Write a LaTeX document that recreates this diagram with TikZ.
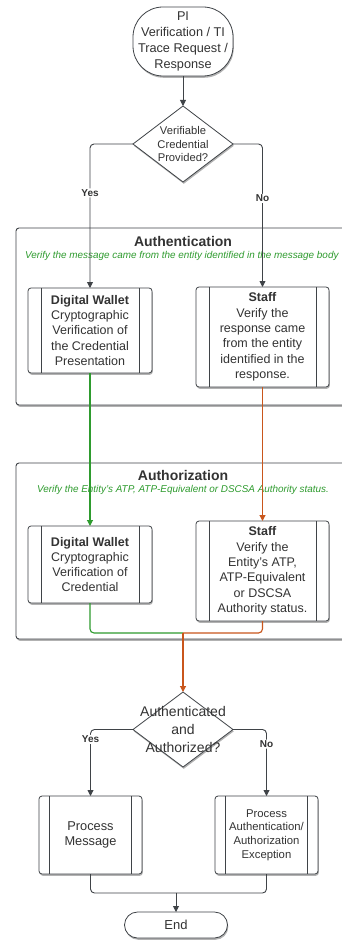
\documentclass[tikz,border=0pt]{standalone}
\usepackage{fontspec}
\setmainfont{Liberation Sans}
\usetikzlibrary{arrows.meta,shapes.geometric,shadows,calc}
\definecolor{ln}{HTML}{3F4347}
\definecolor{grn}{HTML}{2E9B2E}
\definecolor{org}{HTML}{C9561C}
\definecolor{txt}{HTML}{333333}
\begin{document}
\begin{tikzpicture}[x=1pt,y=-1pt,
  every node/.style={text=txt},
  conn/.style={draw=ln, line width=0.9pt, rounded corners=4pt},
  arr/.style={-{Triangle[length=6pt,width=6pt]}},
  shad/.style={drop shadow={shadow xshift=0.8pt,shadow yshift=-1.8pt,opacity=0.3,fill=black}},
  procbox/.style={draw=ln, line width=0.8pt, fill=white, rounded corners=3pt, shad, align=center, inner sep=0pt, outer sep=0pt},
  term/.style={draw=ln, line width=0.8pt, fill=white, shad, align=center, inner sep=0pt, outer sep=0pt},
  dia/.style={diamond, draw=ln, line width=0.8pt, fill=white, shad, inner sep=0pt, outer sep=0pt, minimum width=100pt},
  grp/.style={draw=ln, line width=0.9pt, fill=white, rounded corners=3pt, shad},
  ynlab/.style={fill=white, font=\bfseries\fontsize{10}{12}\selectfont, inner sep=1pt},
  gtitle/.style={font=\bfseries\fontsize{14}{16}\selectfont, inner sep=0pt},
  gsub/.style={text=grn, font=\itshape\fontsize{9.9}{11}\selectfont, inner sep=0pt},
  boxtext/.style={font=\fontsize{12.5}{15.3}\selectfont}
]
\useasboundingbox (0,0) rectangle (341,941);
\fill[white] (0,0) rectangle (341,941);

% start
\node[term, minimum width=100pt, minimum height=69pt, rounded corners=30pt,
      font=\fontsize{12.7}{15.7}\selectfont] (start) at (183,41.5)
      {PI\\Verification / TI\\Trace Request /\\Response};

% decision 1
\node[dia, minimum height=76pt] (d1) at (183,144) {};
\node[align=center, inner sep=0pt, font=\fontsize{11.2}{13.3}\selectfont] (d1t) at (d1) {Verifiable\\Credential\\Provided?};

% Authentication group
\draw[grp] (16,228) rectangle (352,405);
\node[gtitle] (authn) at (183,241) {Authentication};
\node[gsub, anchor=west] (authnsub) at (25,256) {Verify the message came from the entity identified in the message body};

\node[procbox, boxtext, minimum width=124pt, minimum height=85pt] (aw) at (90,330.5)
  {\textbf{Digital Wallet}\\Cryptographic\\Verification of\\the Credential\\Presentation};
\node[procbox, boxtext, minimum width=133pt, minimum height=100pt] (as) at (262.5,337)
  {\textbf{Staff}\\Verify the\\response came\\from the entity\\identified in the\\response.};

% Authorization group
\draw[grp] (16,463) rectangle (352,639);
\node[gtitle] (authz) at (183,475) {Authorization};
\node[gsub] (authzsub) at (183,490) {Verify the Entity's ATP, ATP-Equivalent or DSCSA Authority status.};

\node[procbox, boxtext, minimum width=124pt, minimum height=77pt] (zw) at (90,564.5)
  {\textbf{Digital Wallet}\\Cryptographic\\Verification of\\Credential};
\node[procbox, boxtext, minimum width=133pt, minimum height=100pt] (zs) at (262.5,571)
  {\textbf{Staff}\\Verify the\\Entity's ATP,\\ATP-Equivalent\\or DSCSA\\Authority status.};

\coordinate (m) at (183,633);

% decision 2
\node[dia, minimum height=75pt] (d2) at (183,729.5) {};
\node[align=center, inner sep=0pt, font=\fontsize{14}{17.6}\selectfont] (d2t) at (d2) {Authenticated\\and\\Authorized?};

% final process boxes
\node[procbox, minimum width=103pt, minimum height=78pt, font=\fontsize{12.8}{15.3}\selectfont] (pm) at (90.5,835)
  {Process\\Message};
\node[procbox, minimum width=103pt, minimum height=78pt, font=\fontsize{11.3}{13.6}\selectfont] (ex) at (266.5,835)
  {Process\\Authentication/\\Authorization\\Exception};

\coordinate (e) at (176,893);
\node[term, minimum width=103pt, minimum height=26pt, rounded corners=13pt,
      font=\fontsize{13}{15}\selectfont] (end) at (176,925) {End};

% inner bars of process boxes
\foreach \n/\o in {aw/13,as/13,zw/13,zs/13,pm/10.5,ex/10.5}{
  \draw[ln, line width=0.8pt] ([xshift=\o pt]\n.north west) -- ([xshift=\o pt]\n.south west);
  \draw[ln, line width=0.8pt] ([xshift=-\o pt]\n.north east) -- ([xshift=-\o pt]\n.south east);
}

% connectors
\draw[conn, arr] (start) -- (d1);
\draw[conn, arr] (d1.west) -| node[ynlab, pos=0.67] {Yes} (aw.north);
\draw[conn, arr] (d1.east) -| node[ynlab, pos=0.69] {No} (as.north);

\draw[conn, draw=grn, line width=1.1pt, arr] (aw) -- (zw);
\draw[conn, draw=org, line width=1.1pt, arr] (as) -- (zs);

\draw[conn, draw=grn, line width=1.1pt] (zw.south) |- (m);
\draw[conn, draw=org, line width=1.1pt] (zs.south) |- (m);
\draw[conn, draw=org, line width=1.1pt, arr] (m) -- (d2.north);

\draw[conn, arr] (d2.west) -| node[ynlab, pos=0.575] {Yes} (pm.north);
\draw[conn, arr] (d2.east) -| node[ynlab, pos=0.61] {No} (ex.north);

\draw[conn] (pm.south) |- (e);
\draw[conn] (ex.south) |- (e);
\draw[conn, arr] (e) -- (end.north);
\end{tikzpicture}
\end{document}
